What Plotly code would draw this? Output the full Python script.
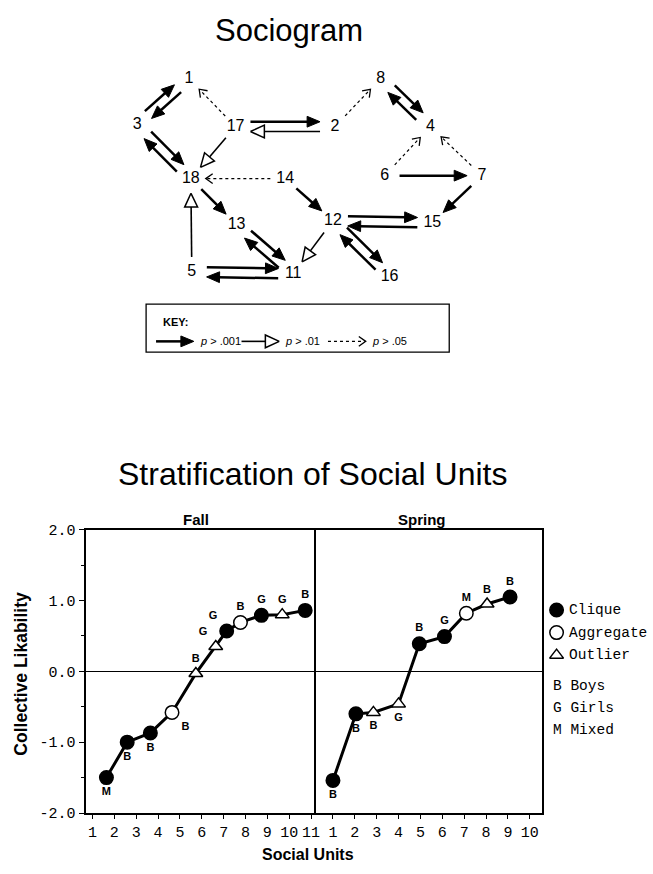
import math
import plotly.graph_objects as go

# page geometry (body margin removed in the page so figure pixels = screenshot pixels)
PAGE_W, PAGE_H = 653, 874
OX, OY = 0, 0
FW, FH = PAGE_W - 2 * OX, PAGE_H - 2 * OY

# ---------------- Sociogram data ----------------
node_ids = ['1', '2', '3', '4', '5', '6', '7', '8', '11', '12', '13', '14', '15', '16', '17', '18']
node_x = [190, 337, 138, 433, 193, 387, 485, 383, 295, 335, 238, 287, 435, 392, 237, 192]
node_y = [73, 122, 120, 122, 270, 172, 172, 73, 272, 218, 222, 175, 220, 275, 122, 175]

edge_src = ['3', '1', '17', '17', '2', '2', '8', '4', '6', '7', '6', '7', '3', '18',
            '17', '14', '14', '18', '5', '13', '11', '12', '12', '15', '12', '16', '5', '11']
edge_dst = ['1', '3', '1', '2', '17', '8', '4', '8', '4', '4', '7', '15', '18', '3',
            '18', '18', '12', '13', '18', '11', '13', '11', '15', '12', '16', '12', '11', '5']
edge_sig = ['001', '001', '05', '001', '01', '05', '001', '001', '05', '05', '001', '001', '001', '001',
            '01', '05', '001', '001', '01', '001', '001', '01', '001', '001', '001', '001', '001', '001']

key_sigs = ['001', '01', '05']
key_labels = ['<i>p</i> &gt; .001', '<i>p</i> &gt; .01', '<i>p</i> &gt; .05']

# ---------------- Stratification data ----------------
fall_units = [1.64, 2.59, 3.65, 4.64, 5.73, 6.64, 7.14, 7.77, 8.73, 9.68, 10.73]
fall_lik = [-1.50, -1.00, -0.87, -0.58, -0.03, 0.35, 0.57, 0.69, 0.79, 0.80, 0.86]
fall_kind = ['Clique', 'Clique', 'Clique', 'Aggregate', 'Outlier', 'Outlier', 'Clique',
             'Aggregate', 'Clique', 'Outlier', 'Clique']
fall_group = ['M', 'B', 'B', 'B', 'B', 'G', 'G', 'B', 'G', 'G', 'B']

spring_units = [1.0, 2.05, 2.85, 4.0, 4.95, 6.1, 7.1, 8.05, 9.1]
spring_lik = [-1.54, -0.60, -0.58, -0.46, 0.39, 0.49, 0.82, 0.95, 1.05]
spring_kind = ['Clique', 'Clique', 'Outlier', 'Outlier', 'Clique', 'Clique', 'Aggregate',
               'Outlier', 'Clique']
spring_group = ['B', 'B', 'B', 'G', 'B', 'G', 'M', 'B', 'B']

fall_ticks = list(range(1, 12))
spring_ticks = list(range(1, 11))
y_ticks = [-2, -1, 0, 1, 2]
y_tick_labels = ['-2.0', '-1.0', '0.0', '1.0', '2.0']

legend_kinds = ['Clique', 'Aggregate', 'Outlier']
legend_groups = ['B Boys', 'G Girls', 'M Mixed']

SANS = 'Liberation Sans, Arial, sans-serif'
MONO = 'Liberation Mono, Courier New, monospace'


def px(x):
    return (x - OX) / FW


def py(y):
    return 1 - (y - OY) / FH


# ---------------- geometry helpers ----------------
pos = {n: (x, y) for n, x, y in zip(node_ids, node_x, node_y)}
R = 15       # gap between node label centre and arrow ends
OFF = 5      # half-gap for reciprocal pairs

solid_x, solid_y = [], []
thin_x, thin_y = [], []
dash_x, dash_y = [], []
fillhead_x, fillhead_y = [], []
openhead_x, openhead_y = [], []
chev_x, chev_y = [], []


def add_arrow(sx, sy, tx, ty, sig):
    dx, dy = tx - sx, ty - sy
    d = math.hypot(dx, dy)
    ux, uy = dx / d, dy / d
    nx, ny = -uy, ux
    if sig == '001':
        L, w = 13, 5.5
        bx, by = tx - L * ux, ty - L * uy
        solid_x.extend([sx, bx + 2 * ux, None]); solid_y.extend([sy, by + 2 * uy, None])
        fillhead_x.extend([tx, bx + w * nx, bx - w * nx, tx, None])
        fillhead_y.extend([ty, by + w * ny, by - w * ny, ty, None])
    elif sig == '01':
        L, w = 14, 6.5
        bx, by = tx - L * ux, ty - L * uy
        thin_x.extend([sx, bx, None]); thin_y.extend([sy, by, None])
        openhead_x.extend([tx, bx + w * nx, bx - w * nx, tx, None])
        openhead_y.extend([ty, by + w * ny, by - w * ny, ty, None])
    else:
        L, w = 7, 5
        bx, by = tx - L * ux, ty - L * uy
        dash_x.extend([sx, tx - 1.5 * ux, None]); dash_y.extend([sy, ty - 1.5 * uy, None])
        chev_x.extend([bx + w * nx, tx, bx - w * nx, None])
        chev_y.extend([by + w * ny, ty, by - w * ny, None])


pairs = set(zip(edge_src, edge_dst))
for s, t, sig in zip(edge_src, edge_dst, edge_sig):
    (x0, y0), (x1, y1) = pos[s], pos[t]
    dx, dy = x1 - x0, y1 - y0
    d = math.hypot(dx, dy)
    ux, uy = dx / d, dy / d
    ox, oy = 0.0, 0.0
    if (t, s) in pairs:
        ox, oy = uy * OFF, -ux * OFF   # shift to the left of travel
    add_arrow(x0 + R * ux + ox, y0 + R * uy + oy, x1 - R * ux + ox, y1 - R * uy + oy, sig)

# key row
key_row_y = 341
key_starts = [157, 243, 330]
key_len = 38
for kx, sig in zip(key_starts, key_sigs):
    add_arrow(kx, key_row_y, kx + key_len, key_row_y, sig)

fig = go.Figure()
S = dict(xaxis='x3', yaxis='y3', hoverinfo='skip', showlegend=False)

fig.add_trace(go.Scatter(x=solid_x, y=solid_y, mode='lines', line=dict(color='black', width=2.5), **S))
fig.add_trace(go.Scatter(x=thin_x, y=thin_y, mode='lines', line=dict(color='black', width=1.6), **S))
fig.add_trace(go.Scatter(x=dash_x, y=dash_y, mode='lines',
                         line=dict(color='black', width=1.2, dash='3px,3px'), **S))
fig.add_trace(go.Scatter(x=fillhead_x, y=fillhead_y, mode='lines', fill='toself',
                         fillcolor='black', line=dict(color='black', width=1), **S))
fig.add_trace(go.Scatter(x=openhead_x, y=openhead_y, mode='lines', fill='toself',
                         fillcolor='white', line=dict(color='black', width=1.5), **S))
fig.add_trace(go.Scatter(x=chev_x, y=chev_y, mode='lines', line=dict(color='black', width=1.3), **S))
fig.add_trace(go.Scatter(x=node_x, y=node_y, mode='text', text=node_ids,
                         textfont=dict(family=SANS, size=16, color='black'), **S))


# ---------------- Stratification panels ----------------
def marker_style(kinds):
    sym = ['triangle-up' if k == 'Outlier' else 'circle' for k in kinds]
    col = ['black' if k == 'Clique' else 'white' for k in kinds]
    size = [12 if k == 'Outlier' else 13.5 for k in kinds]
    return dict(symbol=sym, color=col, size=size, opacity=1, line=dict(color='black', width=1.5))


fall_tp = ['bottom center', 'bottom center', 'bottom center', 'bottom right', 'top center',
           'top left', 'top left', 'top center', 'top center', 'top center', 'top center']
spring_tp = ['bottom center'] * 4 + ['top center'] * 5

for xs, ys, kinds, grp, tp, xa, ya in [
        (fall_units, fall_lik, fall_kind, fall_group, fall_tp, 'x', 'y'),
        (spring_units, spring_lik, spring_kind, spring_group, spring_tp, 'x2', 'y2')]:
    fig.add_trace(go.Scatter(x=xs, y=ys, mode='lines', line=dict(color='black', width=3),
                             xaxis=xa, yaxis=ya, showlegend=False, hoverinfo='skip'))
    fig.add_trace(go.Scatter(x=xs, y=ys, mode='markers+text', marker=marker_style(kinds),
                             text=grp, textposition=tp,
                             textfont=dict(family=SANS, size=11, color='black', weight='bold'),
                             xaxis=xa, yaxis=ya, showlegend=False, hoverinfo='skip'))

# legend markers (in pixel space)
leg_y = [615, 638, 661]
fig.add_trace(go.Scatter(x=[560] * 3, y=leg_y, mode='markers', marker=marker_style(legend_kinds), **S))

annotations = []
for txt, yy in zip(legend_kinds, leg_y):
    annotations.append(dict(x=570, y=yy, xref='x3', yref='y3', text=txt, showarrow=False,
                            xanchor='left', yanchor='middle', font=dict(family=MONO, size=14.5, color='black')))
for txt, yy in zip(legend_groups, [692, 715, 737]):
    annotations.append(dict(x=554, y=yy, xref='x3', yref='y3', text=txt, showarrow=False,
                            xanchor='left', yanchor='middle', font=dict(family=MONO, size=14.5, color='black')))

for kx, lab in zip(key_starts, key_labels):
    annotations.append(dict(x=kx + key_len + 4, y=key_row_y, xref='x3', yref='y3', text=lab,
                            showarrow=False, xanchor='left', yanchor='middle',
                            font=dict(family=SANS, size=11, color='black')))
annotations.append(dict(x=162, y=321, xref='x3', yref='y3', text='<b>KEY:</b>', showarrow=False,
                        xanchor='left', yanchor='middle', font=dict(family=SANS, size=11, color='black')))

annotations += [
    dict(x=291, y=24, xref='x3', yref='y3', text='Sociogram', showarrow=False,
         font=dict(family=SANS, size=31, color='black')),
    dict(x=315, y=476, xref='x3', yref='y3', text='Stratification of Social Units', showarrow=False,
         font=dict(family=SANS, size=32, color='black')),
    dict(x=197, y=523, xref='x3', yref='y3', text='<b>Fall</b>', showarrow=False,
         font=dict(family=SANS, size=15, color='black')),
    dict(x=425, y=523, xref='x3', yref='y3', text='<b>Spring</b>', showarrow=False,
         font=dict(family=SANS, size=15, color='black')),
    dict(x=21, y=680, xref='x3', yref='y3', text='<b>Collective Likability</b>', showarrow=False,
         textangle=-90, font=dict(family=SANS, size=17.5, color='black')),
    dict(x=310, y=864, xref='x3', yref='y3', text='<b>Social Units</b>', showarrow=False,
         font=dict(family=SANS, size=16, color='black')),
]

shapes = [dict(type='rect', xref='x3', yref='y3', x0=147, y0=303, x1=452, y1=352,
               line=dict(color='black', width=1.3))]

ydom = [py(822), py(533)]
axis_common = dict(showline=True, linecolor='black', linewidth=1.7,
                   showgrid=False, tickcolor='black', ticks='outside',
                   tickfont=dict(family=MONO, size=15, color='black'))

fig.update_layout(
    width=FW, height=FH, margin=dict(l=0, r=0, t=0, b=0),
    paper_bgcolor='white', plot_bgcolor='rgba(0,0,0,0)',
    showlegend=False,
    xaxis=dict(domain=[px(87), px(318)], range=[0.727, 11.227], tickvals=fall_ticks,
               ticklen=4, zeroline=False, anchor='y', mirror=True, **axis_common),
    yaxis=dict(domain=ydom, range=[-2, 2], tickvals=y_ticks, ticktext=y_tick_labels,
               ticklen=6, minor=dict(dtick=0.5, ticklen=4, ticks='outside', tickcolor='black'),
               zeroline=True, zerolinecolor='black', zerolinewidth=1.3, anchor='x',
               mirror=False, **axis_common),
    xaxis2=dict(domain=[px(318), px(545)], range=[0.227, 10.545], tickvals=spring_ticks,
                ticklen=4, zeroline=False, anchor='y2', mirror=True, **axis_common),
    yaxis2=dict(domain=ydom, range=[-2, 2], showline=True, linecolor='black', linewidth=1.7,
                mirror=True, showgrid=False, showticklabels=False, ticks='',
                zeroline=True, zerolinecolor='black', zerolinewidth=1.3, anchor='x2'),
    xaxis3=dict(domain=[0, 1], range=[OX, OX + FW], visible=False, anchor='y3'),
    yaxis3=dict(domain=[0, 1], range=[OY + FH, OY], visible=False, anchor='x3'),
    annotations=annotations,
    shapes=shapes,
)

fig.write_html('out.html', config={'displayModeBar': False},
               post_script="document.body.style.margin='0';document.body.style.overflow='hidden';")
